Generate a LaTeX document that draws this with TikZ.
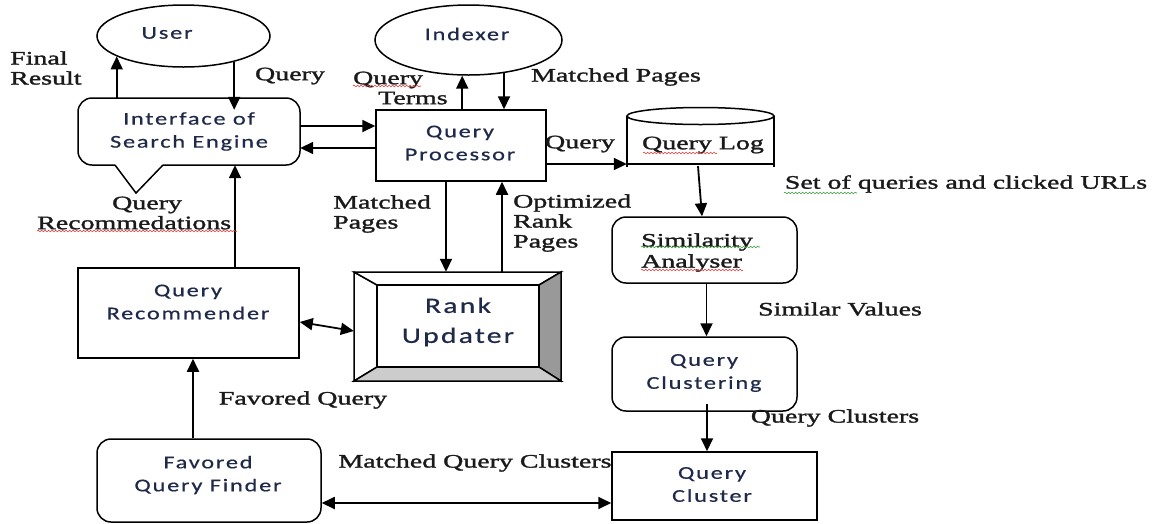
\documentclass[tikz,border=0pt]{standalone}
\usepackage{fontspec}
\setmainfont{Liberation Serif}[FakeStretch=1.47,FakeBold=1.6]
\newfontfamily\boxfont{Carlito}[FakeStretch=1.35,LetterSpace=10,FakeBold=0.6]
\usetikzlibrary{arrows.meta,shapes.geometric,decorations.pathmorphing}
\definecolor{boxtxt}{HTML}{1F2A4A}
\definecolor{lbltxt}{HTML}{1A1A1A}
\definecolor{spellred}{HTML}{E03A3A}
\definecolor{spellgreen}{HTML}{3C9A3C}
\tikzset{
  lw/.style={line width=1.5pt},
  arr/.style={line width=1.8pt, -{Triangle[length=13pt,width=12pt]}},
  dblarr/.style={line width=1.8pt, {Triangle[length=13pt,width=12pt]}-{Triangle[length=13pt,width=12pt]}},
  anchorbox/.style={rectangle, inner sep=0pt},
  box/.style={anchorbox, draw, lw},
  rbox/.style={box, rounded corners=14pt},
  oval/.style={ellipse, draw, lw, inner sep=0pt},
  btext/.style={font=\boxfont\fontsize{18}{23}\selectfont, text=boxtxt, align=center, inner sep=0pt},
  lbl/.style={font=\fontsize{19}{20}\selectfont, text=lbltxt, inner sep=0pt},
  squig/.style={decorate, decoration={snake, amplitude=0.8pt, segment length=3.5pt}, line width=0.6pt},
}
\begin{document}
\begin{tikzpicture}[x=1pt,y=-1pt]
\useasboundingbox (0,0) rectangle (1156,523);
\fill[white] (0,0) rectangle (1156,523);

% ---- ovals ----
\node[oval, minimum width=173pt, minimum height=62pt] (user) at (183.5,36) {};
\node[btext] (userT) at (167,33) {User};
\node[oval, minimum width=187pt, minimum height=70pt] (indexer) at (468.5,40) {};
\node[btext] (indexerT) at (467,34) {Indexer};

% ---- callout: interface of the search engine ----
\node[anchorbox, minimum width=222pt, minimum height=67pt] (iface) at (189,131.5) {};
\draw[lw, rounded corners=14pt] (163,165) -- (300,165) -- (300,98) -- (78,98) -- (78,165) -- (115,165);
\draw[lw, line join=miter] (115,165) -- (136,193) -- (163,165);
\node[btext] (ifaceT) at (189,131.5) {Interface of\\Search Engine};
\coordinate (qEnter) at ([yshift=-12pt]iface.north);

% ---- query processor ----
\node[box, minimum width=170pt, minimum height=71pt] (qp) at (461,145.5) {};
\node[btext] (qpT) at (460,143) {Query\\Processor};

% ---- query log (cylinder) ----
\node[anchorbox, minimum width=147pt, minimum height=58pt] (qlog) at (700.5,137) {};
\draw[lw] (627,116) -- (627,167) (774,116) -- (774,167) (627,164) -- (774,164);
\draw[lw] (700.5,116) ellipse [x radius=73.5pt, y radius=8.5pt];
\node[lbl] (qlogT) at (703,145) {Query Log};

% ---- similarity analyser ----
\node[rbox, minimum width=185pt, minimum height=66pt] (sim) at (704.5,250) {};
\node[lbl, font=\fontsize{19}{21}\selectfont, align=left, anchor=west] (simT) at (641,252.5) {Similarity\\Analyser};

% ---- query clustering ----
\node[rbox, minimum width=185pt, minimum height=74pt] (clus) at (704.5,374) {};
\node[btext] (clusT) at (704,373) {Query\\Clustering};

% ---- query cluster ----
\node[box, minimum width=205pt, minimum height=68pt] (qc) at (714.5,486) {};
\node[btext] (qcT) at (712,484.5) {Query\\Cluster};

% ---- query recommender ----
\node[box, minimum width=221pt, minimum height=90pt] (rec) at (188.5,313) {};
\node[btext] (recT) at (188,302) {Query\\Recommender};

% ---- rank updater (bevelled button) ----
\node[anchorbox, minimum width=207pt, minimum height=109pt] (rank) at (457.5,326.5) {};
\filldraw[lw, fill=white] (354,272) -- (377,285) -- (377,367) -- (354,381) -- cycle;
\filldraw[lw, fill=white] (354,272) -- (561,272) -- (539,285) -- (377,285) -- cycle;
\filldraw[lw, fill=black!40] (561,272) -- (561,381) -- (539,367) -- (539,285) -- cycle;
\filldraw[lw, fill=black!20] (354,381) -- (561,381) -- (539,367) -- (377,367) -- cycle;
\draw[lw] (377,285) rectangle (539,367);
\node[btext, font=\boxfont\fontsize{22}{30}\selectfont] (rankT) at (458,322) {Rank\\Updater};

% ---- favored query finder ----
\node[rbox, minimum width=224pt, minimum height=83pt] (fav) at (209,480.5) {};
\node[btext] (favT) at (208,475) {Favored\\Query Finder};

% ---- connectors ----
\draw[arr] (user.197 |- iface.north) -- (user.197);
\draw[arr] (user.-27) -- (user.-27 |- qEnter);
\draw[arr] ([yshift=5.5pt]iface.east) -- ([yshift=19.5pt]qp.west);
\draw[arr] ([yshift=-2.5pt]qp.west) -- ([yshift=-16.5pt]iface.east);
\draw[arr] (indexer.-100.5 |- qp.north) -- (indexer.-100.5);
\draw[arr] (indexer.-43.3) -- (indexer.-43.3 |- qp.north);
\draw[arr] ([yshift=-18.5pt]qp.east) -- ([yshift=-27pt]qlog.west);
\draw[arr] ([xshift=-2.5pt]qlog.south) -- ([xshift=-2.5pt]sim.north);
\draw[arr] ([xshift=2pt]sim.south) -- ([xshift=2pt]clus.north);
\draw[arr] ([xshift=2.5pt,yshift=8pt]clus.south) -- ([xshift=-7.5pt]qc.north);
\draw[dblarr] ([yshift=-17pt]qc.west) -- ([yshift=-22.5pt]fav.east);
\draw[arr] ([xshift=-16pt]fav.north) -- ([xshift=4.5pt]rec.south);
\draw[arr] ([xshift=46.5pt]rec.north) -- ([xshift=46pt]iface.south);
\draw[dblarr] ([yshift=-9pt]rec.east) -- ([yshift=-4.5pt]rank.west);
\draw[arr] ([xshift=-15pt]qp.south) -- ([xshift=-11.5pt]rank.north);
\draw[arr] ([xshift=44.5pt]rank.north) -- ([xshift=41pt]qp.south);

% ---- connector labels ----
\node[lbl, align=left, anchor=west] (lFinal) at (10,68) {Final\\Result};
\node[lbl] (lQuery1) at (290,76) {Query};
\node[lbl, align=left, anchor=west] (lTerms) at (353,88) {Query\\\hspace*{25pt}Terms};
\node[lbl] (lMatched1) at (616,77) {Matched Pages};
\node[lbl] (lQuery2) at (580,144) {Query};
\node[lbl] (lSet) at (966,184) {Set of queries and clicked URLs};
\node[lbl, align=left, anchor=west] (lRecs) at (37,213) {\hspace*{75pt}Query\\Recommedations};
\node[lbl, align=left, anchor=west] (lMatched2) at (333,214) {Matched\\Pages};
\node[lbl, align=left, anchor=west] (lOpt) at (513,223) {Optimized\\Rank\\Pages};
\node[lbl] (lSimilar) at (840,309) {Similar Values};
\node[lbl] (lFavored) at (303,400) {Favored Query};
\node[lbl] (lClusters) at (835,418) {Query Clusters};
\node[lbl] (lMatched3) at (475,463) {Matched Query Clusters};

% ---- spell-check underlines ----
\draw[squig, spellred] (353,86) -- (421,86);
\draw[squig, spellred] (37,231) -- (237,231);
\draw[squig, spellred] (643,153) -- (717,153);
\draw[squig, spellgreen] (641,247) -- (760,247);
\draw[squig, spellred] (641,270) -- (743,270);
\draw[squig, spellgreen] (784,193) -- (857,193);
\end{tikzpicture}
\end{document}
